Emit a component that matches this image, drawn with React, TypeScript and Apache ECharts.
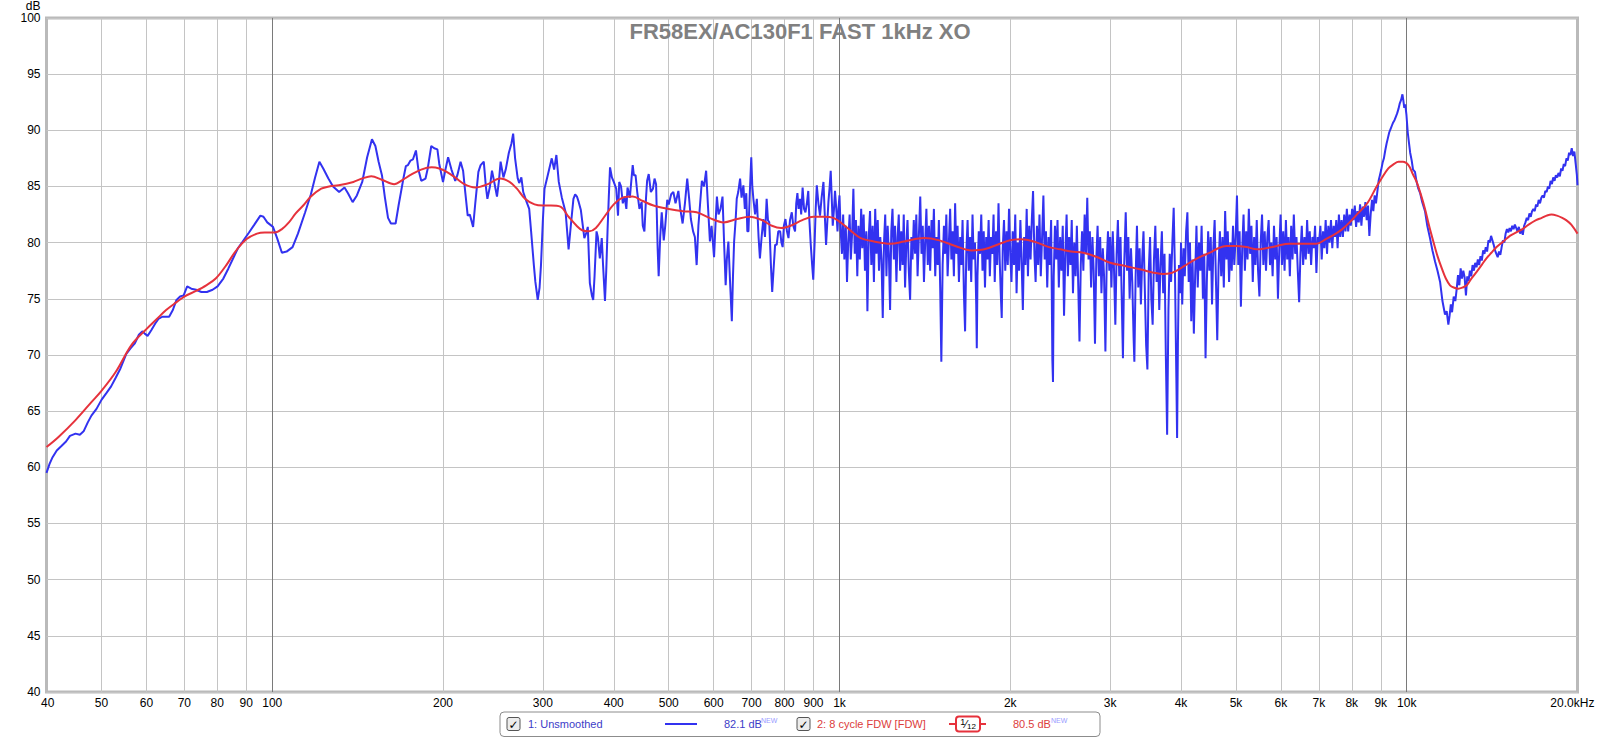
import React, { useEffect, useRef } from 'react';
import * as echarts from 'echarts';

const FONT = "'Liberation Sans', Arial, sans-serif";

const titleText = 'FR58EX/AC130F1 FAST 1kHz XO';
const yMin = 40;
const yMax = 100;
const yStep = 5;
const xMin = 40;
const xMax = 20000;
const xTickValues = [40, 50, 60, 70, 80, 90, 100, 200, 300, 400, 500, 600, 700, 800, 900, 1000, 2000, 3000, 4000, 5000, 6000, 7000, 8000, 9000, 10000, 20000];
const xTickLabels = ['40', '50', '60', '70', '80', '90', '100', '200', '300', '400', '500', '600', '700', '800', '900', '1k', '2k', '3k', '4k', '5k', '6k', '7k', '8k', '9k', '10k', '20.0kHz'];
const majorTickValues = [100, 1000, 10000];

const legendBlueName = '1: Unsmoothed';
const legendBlueLevel = '82.1 dB';
const legendRedName = '2: 8 cycle FDW [FDW]';
const legendRedLevel = '80.5 dB';

// Unsmoothed response, [Hz, dB]
const blueLow = [
  [40, 59.5], [40.5, 60.3], [41, 60.9], [41.7, 61.5], [42.5, 61.9], [43.3, 62.3], [44, 62.8], [45, 63.0], [45.8, 62.9], [46.5, 63.2], [47.3, 64.0], [48, 64.6], [49, 65.2], [50, 66.0], [51, 66.6], [52, 67.2], [53, 68.0], [54, 68.8], [55.3, 70.1], [56.3, 70.6], [57.2, 71.0], [58.2, 71.8], [59, 72.1], [59.6, 71.9], [60.3, 71.7], [61.2, 72.2], [62.2, 72.8], [63, 73.2], [64, 73.4], [65, 73.4], [65.8, 73.4], [66.8, 74.0], [67.8, 74.9], [68.8, 75.2], [69.8, 75.3], [70.8, 76.1], [72, 75.9], [73.4, 75.8], [75, 75.6], [76.7, 75.6], [78.5, 75.8], [80.1, 76.1], [82, 76.8], [83.7, 77.7], [85.5, 78.7], [87, 79.5], [88.7, 80.1], [91, 80.9], [93, 81.6], [95.3, 82.4], [96.5, 82.3], [98, 81.8], [100.3, 81.4], [102, 80.4], [104, 79.1], [106, 79.2], [108.6, 79.6], [111, 80.8], [114.3, 82.7], [117, 84.3], [119, 85.8], [121.1, 87.2], [123, 86.6], [125.6, 85.7], [128, 85.0], [131.2, 84.5], [134.1, 84.9], [136, 84.4], [138.6, 83.6], [141, 84.2], [144.1, 85.4], [147, 87.6], [149.9, 89.2], [152, 88.6], [154, 87.2], [156.1, 86.0], [158, 84.0], [160, 82.2], [161.9, 81.7], [165, 81.7], [167, 83.3], [170.3, 85.7], [172, 86.8], [173.5, 86.9], [175.3, 87.3], [177, 87.4], [179.2, 88.2], [181, 86.5], [183.1, 85.5], [186.3, 85.7], [188, 86.6], [190.7, 88.6], [193, 88.4], [195.5, 88.3], [197, 87.0], [200, 85.4], [202, 86.5], [204.2, 87.6], [207, 86.5], [210.2, 85.5], [212, 86.0], [214.8, 87.2], [217, 86.4], [219, 84.4], [221.1, 82.4], [223, 82.5], [226, 81.4], [228, 83.5], [230.9, 86.3], [233, 86.9], [236, 87.2], [238, 85.0], [239.5, 83.9], [242, 85.0], [244, 86.4], [246, 85.5], [249, 84.1], [251, 85.5], [252.7, 87.2], [255.6, 85.8], [258, 86.5], [261.3, 88.0], [264, 88.8], [265.9, 89.7], [268, 87.5], [270.9, 85.7], [272.5, 85.3], [274.9, 85.8], [277, 84.5], [280.9, 83.6], [283.8, 83.0], [286, 81.0], [289.2, 78.0], [291, 76.5], [293.8, 74.9], [296, 76.0], [297.7, 78.0], [300, 82.0], [302, 84.8],
];

const blueMid = [
  [306, 86.0], [311, 87.5], [314, 86.5], [316.9, 87.8], [320, 85.4], [324, 84.0], [329, 82.7], [333, 79.4], [336, 81.5], [339.6, 83.9], [342, 84.3], [344.5, 84.1], [347, 83.6], [350, 82.9], [355, 80.4], [358, 80.9], [360, 81.4], [363, 76.4], [366, 75.3], [368, 74.9], [370, 77.0], [373, 81.0], [375, 80.5], [378, 78.6], [381, 80.4], [383, 78.0], [386, 74.8], [388, 77.5], [390, 81.0], [392, 84.0], [394, 86.7], [397, 85.8],
  [400, 85.4], [404, 84.8], [407, 82.4], [409, 85.4], [412, 85.0], [415, 83.5], [418, 84.1], [421, 83.0], [423, 84.9], [427, 84.0], [432, 86.9], [434, 86.0], [437, 86.0], [440, 84.5], [444, 83.0], [448, 83.6], [450, 81.5], [453, 81.0], [456, 84.0], [458, 85.5], [461, 86.1], [465, 84.5], [469, 84.8], [472, 85.7], [475, 85.2], [478, 79.5], [480, 77.0], [483, 80.5], [486, 82.7], [490, 80.2], [493, 81.5], [497, 83.8],
  [500, 83.4], [505, 84.3], [509.5, 84.5], [514, 83.5], [520, 84.6], [524, 83.0], [529, 81.7], [534, 83.5], [539, 85.7], [543, 84.0], [547, 82.1], [552, 81.0], [556, 80.5], [560, 78.0], [564, 81.5], [568, 83.5], [572, 85.5], [577, 85.0], [582, 86.4], [586, 83.5], [591, 80.1], [595, 81.5],
  [601, 78.7], [605, 82.0], [608, 84.1], [612, 82.5], [617, 83.0], [622, 84.1], [626, 80.0], [630, 76.2], [633, 78.5], [637, 80.1], [642, 76.0], [646, 73.0], [649, 77.0], [652, 80.1], [656, 82.0], [659, 83.9], [663, 84.5], [668, 85.7], [672, 84.0], [677, 85.1], [681, 83.0], [685, 84.4], [688, 81.0], [691, 81.0], [695, 84.5], [699, 87.6],
  [702, 85.0], [705, 83.9], [710, 82.5], [715, 83.9], [720, 80.5], [724, 78.6], [729, 80.5], [734, 82.1], [739, 80.5], [744, 83.9], [748, 82.0], [752, 81.8], [757, 78.0], [761, 75.6], [765, 77.5], [770, 79.8], [775, 79.8], [780, 81.0], [786, 81.0], [790, 80.0], [794, 79.6], [798, 81.5],
  [803, 82.1], [808, 81.0], [813, 80.4], [818, 82.0], [824, 82.7], [829, 81.5], [835, 81.0], [839, 83.5], [843, 84.4], [847, 83.0], [852, 83.9], [856, 82.5], [861, 84.9], [866, 83.0], [871, 82.7], [876, 83.5], [881, 84.6], [885, 82.0], [890, 79.8], [895, 78.0], [899, 76.7],
  [904, 80.0], [908, 83.0], [912, 85.1], [918, 83.5], [924, 82.4], [930, 84.0], [937, 85.4], [942, 82.5], [947, 79.8], [951, 81.5], [956, 83.6], [961, 85.0], [965, 86.4], [969, 84.0], [973, 81.5], [978, 83.0], [982, 84.6], [987, 83.0], [992, 81.0], [996, 83.0], [1000, 84.2],
];

const blue1k2k = [
  [1005, 81.0], [1010, 79.0], [1015, 82.5], [1020, 78.5], [1026, 81.5], [1031, 76.5], [1036, 80.0], [1042, 82.5], [1047, 78.5], [1053, 81.0], [1058, 84.8], [1064, 79.0], [1069, 82.0], [1075, 77.0], [1080, 81.5], [1086, 78.5], [1092, 83.0], [1097, 79.5],
  [1103, 82.5], [1109, 77.5], [1115, 81.0], [1120, 73.9], [1126, 80.5], [1132, 82.8], [1138, 78.0], [1144, 81.5], [1150, 76.5], [1156, 83.0], [1162, 79.0], [1168, 82.0], [1174, 77.5], [1180, 80.5], [1186, 78.5], [1192, 73.3], [1198, 80.0],
  [1204, 82.5], [1210, 77.0], [1216, 81.5], [1222, 79.0], [1228, 74.0], [1234, 81.0], [1240, 83.0], [1247, 78.5], [1253, 81.5], [1260, 76.5], [1266, 80.5], [1272, 82.5], [1279, 77.5], [1285, 81.0], [1292, 78.0], [1298, 82.5],
  [1305, 76.0], [1312, 80.0], [1318, 82.0], [1325, 77.5], [1332, 74.9], [1339, 80.5], [1345, 78.5], [1352, 82.0], [1359, 79.0], [1366, 82.5], [1373, 77.0], [1380, 80.5], [1388, 84.1], [1395, 79.0],
  [1402, 81.5], [1409, 76.5], [1416, 80.0], [1423, 83.0], [1431, 78.0], [1438, 81.5], [1445, 77.5], [1453, 82.0], [1460, 79.5], [1467, 83.0], [1475, 77.0], [1482, 80.5], [1490, 78.0], [1497, 82.0],
  [1505, 76.0], [1512, 69.4], [1520, 78.0], [1528, 81.5], [1535, 79.0], [1543, 82.5], [1551, 77.0], [1559, 80.0], [1567, 83.0], [1575, 78.5], [1583, 81.0], [1591, 77.0], [1599, 83.5],
  [1607, 79.0], [1615, 81.5], [1624, 76.5], [1632, 80.5], [1640, 78.0], [1648, 82.0], [1657, 75.5], [1665, 72.1], [1673, 79.0], [1682, 82.0], [1690, 77.5], [1699, 80.5],
  [1707, 76.5], [1716, 82.5], [1724, 78.5], [1733, 80.0], [1742, 74.5], [1746, 70.6], [1751, 77.0], [1760, 81.0], [1769, 79.0], [1778, 82.5], [1787, 77.5], [1796, 81.0],
  [1805, 76.0], [1814, 80.5], [1823, 78.5], [1832, 82.0], [1841, 77.0], [1850, 80.5], [1860, 79.0], [1869, 82.5], [1878, 76.5], [1888, 81.0], [1897, 78.0],
  [1907, 83.5], [1916, 78.5], [1926, 75.0], [1932, 73.3], [1940, 79.5], [1950, 82.0], [1960, 77.5], [1970, 81.0], [1980, 78.0], [1990, 83.0], [2000, 79.0],
];

const blue2k4k = [
  [2010, 76.5], [2020, 81.0], [2031, 78.0], [2041, 82.5], [2052, 75.5], [2062, 80.0], [2073, 77.5], [2084, 82.0], [2094, 78.5], [2105, 74.0], [2116, 80.5], [2127, 78.0], [2138, 83.0], [2149, 77.0], [2160, 81.5], [2172, 78.5], [2183, 82.0], [2194, 84.6],
  [2206, 79.0], [2217, 76.5], [2229, 81.5], [2240, 78.0], [2252, 82.5], [2264, 77.0], [2276, 80.5], [2288, 84.2], [2300, 78.5], [2312, 81.0], [2324, 76.0], [2336, 80.5], [2348, 78.0], [2361, 82.0], [2373, 69.5], [2379, 67.6], [2386, 77.0], [2398, 81.5],
  [2411, 78.5], [2423, 82.0], [2436, 76.0], [2449, 80.5], [2462, 77.5], [2475, 81.5], [2488, 73.5], [2501, 79.0], [2514, 82.5], [2527, 77.0], [2540, 80.5], [2554, 78.0], [2567, 82.0], [2580, 75.5], [2594, 80.0],
  [2608, 77.0], [2621, 81.5], [2635, 76.5], [2649, 71.2], [2663, 78.0], [2677, 81.0], [2691, 77.5], [2705, 82.5], [2720, 79.0], [2734, 84.0], [2748, 78.5], [2763, 81.0], [2777, 76.0], [2792, 80.5],
  [2806, 77.5], [2821, 71.0], [2836, 78.5], [2851, 81.5], [2866, 77.0], [2881, 80.5], [2896, 75.5], [2912, 79.5], [2927, 77.0], [2943, 70.3], [2958, 78.0], [2974, 81.0], [2990, 77.5], [3000, 80.5],
  [3016, 76.0], [3032, 81.0], [3048, 77.5], [3064, 72.7], [3080, 79.0], [3096, 82.0], [3113, 77.0], [3129, 80.5], [3146, 74.5], [3160, 69.7], [3176, 78.0], [3196, 82.7],
  [3213, 77.5], [3230, 80.5], [3247, 75.0], [3265, 79.5], [3282, 76.5], [3300, 71.5], [3310, 69.4], [3327, 77.0], [3345, 81.5], [3363, 76.0], [3381, 79.5], [3399, 74.5],
  [3417, 78.5], [3435, 81.0], [3453, 76.0], [3472, 70.9], [3490, 68.7], [3509, 77.5], [3528, 80.5], [3546, 75.0], [3565, 72.7], [3584, 78.5], [3604, 81.5],
  [3623, 76.5], [3642, 79.5], [3662, 74.0], [3681, 78.0], [3701, 81.0], [3721, 75.5], [3741, 79.0], [3761, 70.0], [3781, 62.9], [3801, 74.0],
  [3821, 79.0], [3842, 76.5], [3862, 80.0], [3883, 83.1], [3904, 77.0], [3925, 68.0], [3937, 62.6], [3950, 71.0], [3967, 78.0], [3989, 75.5], [4000, 80.0],
];

const blue4k8k = [
  [4020, 74.5], [4041, 79.5], [4062, 77.0], [4084, 81.0], [4105, 82.7], [4127, 76.5], [4148, 80.0], [4170, 73.0], [4192, 78.5], [4214, 71.9], [4236, 77.0], [4259, 81.5], [4281, 76.0],
  [4304, 80.0], [4327, 77.5], [4349, 81.5], [4372, 75.0], [4396, 79.0], [4419, 69.7], [4442, 76.5], [4466, 81.0], [4489, 77.5], [4513, 80.5], [4537, 74.5], [4561, 79.5], [4585, 82.0],
  [4610, 76.5], [4634, 71.3], [4659, 78.0], [4684, 81.0], [4709, 77.0], [4734, 80.5], [4759, 76.0], [4785, 82.8], [4810, 78.5], [4836, 81.0], [4862, 76.5], [4888, 80.0], [4914, 77.5], [4940, 81.5], [4966, 78.0], [4993, 80.5],
  [5020, 84.2], [5047, 78.0], [5074, 81.0], [5101, 74.3], [5128, 79.5], [5156, 82.5], [5184, 77.5], [5211, 81.0], [5240, 78.5], [5268, 83.0], [5296, 79.0], [5324, 81.5], [5353, 76.5], [5382, 80.5],
  [5411, 78.0], [5440, 82.0], [5469, 77.5], [5499, 75.2], [5528, 80.0], [5558, 82.5], [5588, 78.0], [5618, 81.0], [5648, 77.5], [5679, 80.5], [5709, 82.0], [5740, 78.0], [5771, 80.0],
  [5802, 77.0], [5834, 81.5], [5865, 78.5], [5897, 80.5], [5929, 75.0], [5961, 79.5], [5993, 82.5],
  [6025, 78.0], [6057, 81.0], [6090, 77.5], [6123, 82.0], [6156, 78.5], [6189, 80.5], [6222, 77.0], [6256, 81.5], [6290, 78.5], [6323, 82.5], [6358, 79.0], [6392, 80.5], [6426, 77.5], [6461, 74.7],
  [6496, 79.0], [6531, 81.5], [6567, 78.0], [6602, 80.5], [6638, 78.5], [6674, 82.0], [6710, 79.0], [6746, 81.0], [6783, 78.0], [6819, 80.5], [6856, 79.5], [6893, 81.5], [6930, 77.3], [6968, 80.5],
  [7005, 80.0], [7043, 81.5], [7081, 78.5], [7119, 81.0], [7158, 79.5], [7196, 82.0], [7235, 79.0], [7274, 81.5], [7313, 80.0], [7353, 82.0], [7392, 79.5], [7432, 81.5], [7472, 80.5],
  [7512, 82.0], [7553, 79.5], [7593, 82.5], [7634, 80.5], [7675, 82.0], [7717, 80.5], [7758, 82.5], [7800, 81.0], [7842, 83.0], [7884, 81.0], [7927, 82.5], [7969, 81.5], [8012, 83.0],
];

const blue8k20k = [
  [8055, 82.0], [8099, 83.3], [8142, 81.4], [8186, 82.8], [8230, 81.8], [8275, 83.4], [8319, 81.5], [8364, 83.2], [8409, 82.3], [8455, 83.6], [8500, 82.0], [8546, 83.3], [8592, 80.6], [8638, 82.5],
  [8685, 83.8], [8731, 82.8], [8778, 84.2], [8826, 83.5], [8873, 84.5], [8921, 85.5], [8969, 86.0], [9017, 86.5], [9066, 87.1], [9115, 87.5], [9164, 88.2], [9213, 88.8], [9263, 89.3], [9313, 89.8],
  [9363, 90.1], [9413, 90.4], [9464, 90.7], [9515, 90.9], [9566, 91.2], [9618, 91.5], [9670, 91.9], [9722, 92.4], [9774, 92.7], [9827, 93.2], [9860, 92.7], [9900, 92.0], [9940, 92.3], [9987, 91.4],
  [10041, 89.8], [10095, 88.8], [10140, 88.0], [10204, 87.3], [10259, 86.5], [10340, 86.3], [10400, 85.5], [10481, 84.8], [10560, 84.4], [10650, 83.6], [10770, 82.8], [10870, 81.5], [10990, 80.4],
  [11100, 79.3], [11220, 78.3], [11330, 77.5], [11450, 76.5], [11560, 74.8], [11680, 73.6], [11760, 73.9], [11840, 72.7], [11900, 73.5], [11960, 74.5], [12020, 73.8], [12100, 75.2], [12180, 74.8],
  [12250, 75.9], [12313, 77.1], [12380, 76.2], [12446, 77.7], [12513, 76.8], [12581, 77.5], [12649, 76.9], [12717, 75.3], [12785, 77.0], [12854, 76.6], [12923, 77.5], [12993, 77.0],
  [13063, 78.0], [13133, 77.5], [13204, 78.2], [13275, 77.8], [13346, 78.5], [13418, 78.0], [13490, 78.8], [13563, 78.4], [13636, 79.3], [13709, 79.0], [13783, 79.6], [13857, 79.2], [13932, 80.2],
  [14007, 80.0], [14082, 80.6], [14158, 80.2], [14234, 79.8], [14311, 79.3], [14388, 79.0], [14465, 78.7], [14543, 79.2], [14621, 78.9], [14700, 79.6], [14779, 80.2], [14859, 80.0], [14939, 80.8],
  [15019, 81.2], [15100, 80.9], [15181, 81.3], [15263, 81.0], [15345, 81.5], [15428, 81.2], [15511, 81.6], [15594, 81.3], [15678, 81.0], [15763, 81.4], [15847, 80.8], [15933, 81.2],
  [16019, 80.7], [16105, 81.5], [16191, 81.8], [16279, 82.2], [16366, 82.0], [16454, 82.6], [16543, 82.3], [16632, 82.8], [16722, 83.0], [16812, 82.8], [16902, 83.4], [16993, 83.2],
  [17085, 83.8], [17177, 83.5], [17269, 84.0], [17362, 84.2], [17455, 84.0], [17549, 84.6], [17644, 84.5], [17739, 85.0], [17834, 84.8], [17930, 85.5], [18026, 85.2], [18123, 85.8],
  [18221, 85.5], [18319, 86.0], [18417, 85.8], [18516, 86.2], [18616, 85.9], [18716, 86.6], [18817, 86.4], [18918, 87.0], [19020, 86.8], [19122, 87.5], [19225, 87.3], [19328, 88.0],
  [19432, 87.8], [19537, 88.4], [19642, 87.7], [19748, 88.1], [19854, 87.0], [19950, 86.0], [20000, 85.1],
];

// 8 cycle FDW, 1/12 octave smoothed, [Hz, dB]
const redData = [
  [40, 61.8], [42, 62.7], [45, 64.2], [48, 65.8], [50, 66.8], [53, 68.5], [56.5, 70.9], [60, 72.3], [62.6, 73.2], [65, 74.0], [67.8, 74.7], [70, 75.2], [73.4, 75.7], [76.5, 76.2], [79.5, 76.8],
  [83, 78.0], [86.1, 79.2], [90, 80.3], [94, 80.8], [97, 80.9], [101, 80.9], [104, 81.2], [107, 81.8], [110, 82.6], [113.4, 83.3], [117, 84.1], [122, 84.8], [126, 85.0], [131, 85.1], [139, 85.4],
  [144, 85.7], [149.5, 85.9], [156, 85.6], [164, 85.2], [170, 85.6], [175, 86.0], [183, 86.5], [191, 86.7], [197, 86.6], [203, 86.3], [210, 85.8], [218, 85.2], [228, 84.9], [240, 85.2], [252, 85.7],
  [262, 85.4], [270, 84.8], [279, 83.9], [290, 83.4], [300, 83.3], [310, 83.3], [322, 83.2], [333, 82.3], [344, 81.5], [352, 81.1], [362, 81.0], [372, 81.3], [385, 82.3], [400, 83.4], [415, 84.0],
  [432, 84.1], [450, 83.7], [470, 83.3], [500, 83.0], [530, 82.8], [560, 82.7], [590, 82.2], [625, 81.8], [660, 82.1], [694, 82.3], [730, 82.0], [760, 81.5], [789, 81.3], [820, 81.5], [860, 82.0],
  [900, 82.3], [937, 82.3], [975, 82.2], [1010, 81.7], [1050, 81.0], [1090, 80.4], [1150, 80.1], [1230, 79.9], [1300, 80.1], [1410, 80.4], [1500, 80.2], [1600, 79.7], [1710, 79.3], [1800, 79.4],
  [1917, 79.9], [2000, 80.2], [2090, 80.3], [2200, 80.1], [2342, 79.6], [2450, 79.4], [2560, 79.2], [2690, 79.1], [2850, 78.7], [3000, 78.2], [3200, 77.9], [3400, 77.6], [3600, 77.3], [3720, 77.2],
  [3850, 77.3], [3930, 77.5], [4050, 77.9], [4200, 78.4], [4350, 78.8], [4500, 79.1], [4650, 79.5], [4810, 79.7], [5000, 79.7], [5220, 79.6], [5440, 79.4], [5650, 79.5], [5900, 79.7], [6200, 79.9],
  [6500, 79.9], [6930, 79.9], [7200, 80.3], [7500, 80.8], [7700, 81.2], [7930, 81.8], [8200, 82.6], [8520, 83.5], [8850, 85.0], [9000, 85.6], [9280, 86.6], [9500, 87.0], [9670, 87.2], [9850, 87.2],
  [10070, 86.9], [10250, 86.1], [10410, 85.4], [10600, 84.2], [10770, 83.0], [10950, 81.5], [11140, 80.1], [11330, 78.8], [11530, 77.7], [11720, 76.8], [11920, 76.2], [12100, 76.0], [12330, 75.9],
  [12540, 76.0], [12760, 76.2], [13000, 76.8], [13280, 77.4], [13550, 78.0], [13820, 78.6], [14100, 79.1], [14400, 79.6], [14800, 80.1], [15200, 80.6], [15600, 80.9], [16000, 81.2], [16400, 81.6],
  [16900, 82.0], [17300, 82.2], [17650, 82.4], [18000, 82.5], [18400, 82.4], [18800, 82.2], [19100, 82.0], [19500, 81.6], [20000, 80.8],
];

const blueData = [...blueLow, ...blueMid, ...blue1k2k, ...blue2k4k, ...blue4k8k, ...blue8k20k];

const BLUE = '#3232f0';
const RED = '#e6323c';
const BLUE_TEXT = '#3c3cc8';
const RED_TEXT = '#dc3c3c';
const NEW_COLOR = '#9a9aff';

function checkbox(x: number, y: number) {
  return [
    { type: 'rect', shape: { x, y, width: 13, height: 13, r: 2 }, style: { fill: '#ececec', stroke: '#555', lineWidth: 1 } },
    { type: 'text', x: x + 6.5, y: y + 7, style: { text: '✓', fontSize: 12, fontWeight: 'bold', fill: '#000', align: 'center', verticalAlign: 'middle', fontFamily: 'DejaVu Sans' } },
  ];
}

export default function App() {
  const ref = useRef<HTMLDivElement>(null);
  useEffect(() => {
    if (!ref.current) return;
    const chart = echarts.init(ref.current, null, { renderer: 'svg' });
    // edge ticks are nudged just inside the axis range so the marker filter keeps them
    const gridMarks = xTickValues.map((v, i) => {
      const isMin = v === xMin;
      const isMax = v === xMax;
      const isEdge = isMin || isMax;
      const isMajor = majorTickValues.indexOf(v) >= 0;
      const pos = isMin ? v * 1.0005 : isMax ? v / 1.0005 : v;
      return {
        xAxis: pos,
        label: { formatter: xTickLabels[i], opacity: 1, color: '#000', offset: isMax ? [-5, 0] : isMin ? [1, 0] : [0, 0] },
        lineStyle: { color: isEdge ? 'rgba(0,0,0,0)' : isMajor ? '#7a7a7a' : '#c4c4c4', width: 1, type: 'solid' },
      };
    });
    const legendY = 724;
    const option: any = {
      animation: false,
      backgroundColor: '#fff',
      title: {
        text: titleText,
        left: 'center',
        top: 15,
        textStyle: { fontSize: 22, fontWeight: 'bold', color: '#808080', fontFamily: FONT },
      },
      grid: {
        left: 46.5,
        right: 22.5,
        top: 14.5,
        bottom: 47,
        show: true,
        borderColor: '#bababa',
        borderWidth: 3,
        backgroundColor: 'transparent',
      },
      xAxis: {
        type: 'log',
        logBase: 10,
        min: xMin,
        max: xMax,
        axisLabel: { show: false },
        axisTick: { show: false },
        axisLine: { show: false },
        splitLine: { show: false },
        minorTick: { show: false },
      },
      yAxis: {
        type: 'value',
        min: yMin,
        max: yMax,
        interval: yStep,
        name: 'dB',
        nameLocation: 'end',
        nameGap: 3,
        nameTextStyle: { align: 'right', verticalAlign: 'bottom', color: '#000', fontSize: 12, fontFamily: FONT, padding: [0, 6, 0, 0] },
        axisLabel: { color: '#000', fontSize: 12, margin: 6, fontFamily: FONT },
        axisTick: { show: false },
        axisLine: { show: false },
        splitLine: { lineStyle: { color: '#c4c4c4', width: 1 } },
      },
      series: [
        {
          type: 'line',
          name: 'grid',
          data: [],
          silent: true,
          markLine: {
            silent: true,
            z: 1,
            symbol: ['none', 'none'],
            animation: false,
            label: { show: true, position: 'start', distance: 5, color: '#000', fontSize: 12, fontFamily: FONT },
            data: gridMarks,
          },
        },
        {
          type: 'line',
          name: legendBlueName,
          data: blueData,
          symbol: 'none',
          showSymbol: false,
          z: 3,
          lineStyle: { color: BLUE, width: 2 },
        },
        {
          type: 'line',
          name: legendRedName,
          data: redData,
          symbol: 'none',
          showSymbol: false,
          smooth: 0.35,
          z: 4,
          lineStyle: { color: RED, width: 2 },
        },
      ],
      graphic: [
        { type: 'rect', shape: { x: 500, y: 712, width: 600, height: 24.5, r: 4 }, style: { fill: '#fff', stroke: '#8c8c8c', lineWidth: 1 } },
        ...checkbox(507, 717.5),
        { type: 'text', x: 528, y: legendY, style: { text: legendBlueName, fontSize: 11, fill: BLUE_TEXT, verticalAlign: 'middle', fontFamily: FONT } },
        { type: 'line', shape: { x1: 665, y1: legendY, x2: 697, y2: legendY }, style: { stroke: BLUE, lineWidth: 2 } },
        { type: 'text', x: 724, y: legendY, style: { text: legendBlueLevel, fontSize: 11, fill: BLUE_TEXT, verticalAlign: 'middle', fontFamily: FONT } },
        { type: 'text', x: 761, y: 720.5, style: { text: 'NEW', fontSize: 7, fill: NEW_COLOR, verticalAlign: 'middle', fontFamily: FONT } },
        ...checkbox(797, 717.5),
        { type: 'text', x: 817, y: legendY, style: { text: legendRedName, fontSize: 11, fill: RED_TEXT, verticalAlign: 'middle', fontFamily: FONT } },
        { type: 'line', shape: { x1: 949, y1: legendY, x2: 986, y2: legendY }, style: { stroke: RED, lineWidth: 2 } },
        { type: 'rect', shape: { x: 956, y: 716.5, width: 24, height: 15, r: 3 }, style: { fill: '#fff', stroke: RED, lineWidth: 2 } },
        {
          type: 'text', x: 968, y: legendY, style: {
            text: '{a|1}{b|⁄}{c|12}', align: 'center', verticalAlign: 'middle',
            rich: {
              a: { fontSize: 9, fill: '#000', fontFamily: FONT, verticalAlign: 'top', padding: [0, 0, 4, 0] },
              b: { fontSize: 11, fill: '#000', fontFamily: FONT },
              c: { fontSize: 8, fill: '#000', fontFamily: FONT, padding: [4, 0, 0, 0] },
            },
          },
        },
        { type: 'text', x: 1013, y: legendY, style: { text: legendRedLevel, fontSize: 11, fill: RED_TEXT, verticalAlign: 'middle', fontFamily: FONT } },
        { type: 'text', x: 1051, y: 720.5, style: { text: 'NEW', fontSize: 7, fill: NEW_COLOR, verticalAlign: 'middle', fontFamily: FONT } },
      ],
    };
    chart.setOption(option);
    return () => chart.dispose();
  }, []);
  return <div ref={ref} style={{ position: 'fixed', left: 0, top: 0, width: 1600, height: 739, background: '#fff' }} />;
}
